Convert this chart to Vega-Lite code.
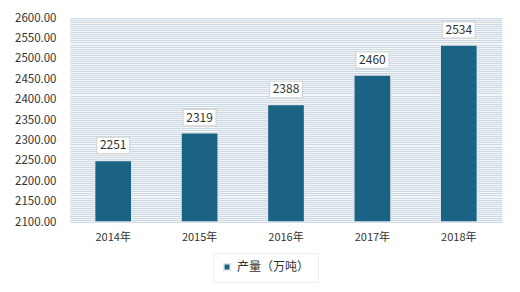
{
  "$schema": "https://vega.github.io/schema/vega-lite/v6.json",
  "width": 432,
  "height": 204,
  "autosize": {"type": "none"},
  "padding": {"left": 70, "top": 18, "right": 18, "bottom": 70},
  "background": "#ffffff",
  "config": {
    "font": "Noto Sans CJK SC",
    "view": {"stroke": null, "fill": "#f3f6f9"}
  },
  "data": {
    "values": [
      {"year": "2014年", "value": 2251, "series": "产量（万吨）"},
      {"year": "2015年", "value": 2319, "series": "产量（万吨）"},
      {"year": "2016年", "value": 2388, "series": "产量（万吨）"},
      {"year": "2017年", "value": 2460, "series": "产量（万吨）"},
      {"year": "2018年", "value": 2534, "series": "产量（万吨）"}
    ]
  },
  "encoding": {
    "x": {
      "field": "year", "type": "nominal", "sort": null,
      "scale": {"paddingInner": 0.57, "paddingOuter": 0.285},
      "axis": {"title": null, "labelAngle": 0, "domain": false, "ticks": false, "labelPadding": 9, "labelFontSize": 11, "labelColor": "#333333"}
    },
    "y": {
      "field": "value", "type": "quantitative",
      "scale": {"domain": [2100, 2600], "zero": false, "nice": false},
      "axis": {"title": null, "tickCount": 100, "labelExpr": "datum.value % 50 === 0 ? format(datum.value, '.2f') : ''", "labelOverlap": false, "domain": false, "ticks": false, "labelPadding": 14, "labelFontSize": 11.5, "labelColor": "#333333", "grid": true, "gridColor": "#ccd8e2", "gridWidth": 1}
    }
  },
  "layer": [
    {
      "mark": {"type": "bar", "color": "#1b6384", "stroke": "#e2e6ea", "strokeWidth": 1.5},
      "encoding": {
        "y2": {"datum": 2100},
        "color": {
          "field": "series", "type": "nominal",
          "scale": {"range": ["#1b6384"]},
          "legend": {
            "title": null, "orient": "none", "legendX": 143, "legendY": 235,
            "symbolType": "square", "symbolSize": 40, "labelFontSize": 12, "labelColor": "#333333",
            "padding": 8, "fillColor": "#ffffff", "strokeColor": "#eeeeee"
          }
        }
      }
    },
    {
      "mark": {"type": "point", "shape": "M-1,-0.5L1,-0.5L1,0.5L-1,0.5Z", "size": 1089, "filled": true, "fill": "#ffffff", "stroke": "#d6d6d6", "strokeWidth": 1.2, "opacity": 1, "yOffset": -15}
    },
    {
      "mark": {"type": "text", "fontSize": 12, "color": "#333333", "dy": -15, "baseline": "middle"},
      "encoding": {"text": {"field": "value", "type": "quantitative", "format": "d"}}
    }
  ]
}
